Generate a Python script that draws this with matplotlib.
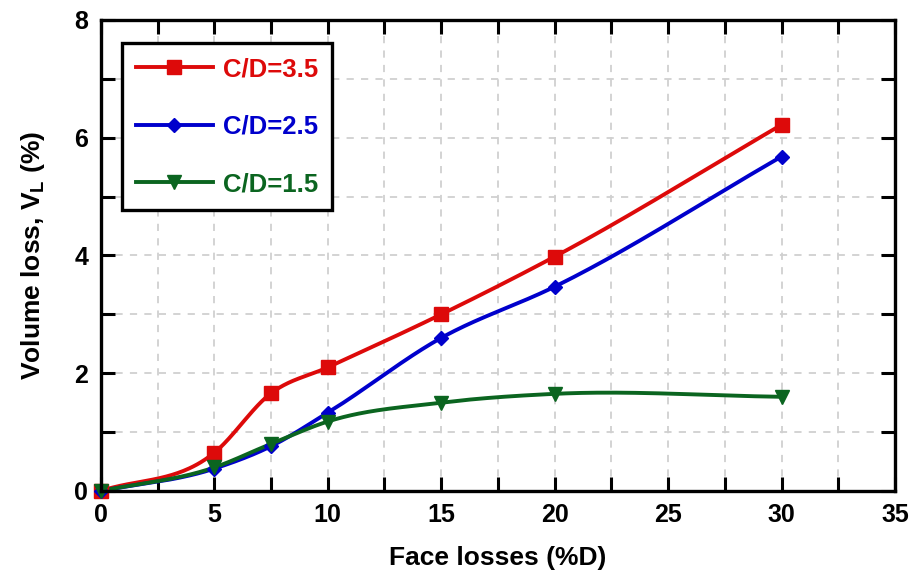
import numpy as np
import matplotlib
matplotlib.use("Agg")
import matplotlib.pyplot as plt
from matplotlib.ticker import MultipleLocator

plt.rcParams['font.family'] = ['Liberation Sans', 'DejaVu Sans']
plt.rcParams['font.weight'] = 'bold'
plt.rcParams['mathtext.fontset'] = 'custom'
plt.rcParams['mathtext.bf'] = 'Liberation Sans:bold'
plt.rcParams['mathtext.rm'] = 'Liberation Sans:bold'

face_loss = [0, 5, 7.5, 10, 15, 20, 30]
vl_35 = [0, 0.65, 1.66, 2.10, 3.00, 3.98, 6.22]
vl_25 = [0, 0.38, 0.76, 1.33, 2.60, 3.47, 5.68]
vl_15 = [0, 0.40, 0.80, 1.18, 1.50, 1.65, 1.60]

labels = ['C/D=3.5', 'C/D=2.5', 'C/D=1.5']
colors = ['#dd0a0a', '#0000cc', '#0b6520']
markers = ['s', 'D', 'v']
msizes = [9.5, 7.5, 10.5]


def smooth_curve(x, y, n=60):
    """Hermite smoothing through the data points (parabolic slope estimates)."""
    x = np.asarray(x, float); y = np.asarray(y, float)
    m = len(x)
    h = np.diff(x)
    d = np.diff(y) / h
    s = np.zeros(m)
    for i in range(1, m - 1):
        s[i] = (h[i] * d[i - 1] + h[i - 1] * d[i]) / (h[i - 1] + h[i])
    s[0] = d[0]
    s[-1] = d[-1]
    xs_all, ys_all = [], []
    t = np.linspace(0, 1, n)
    h00 = 2 * t**3 - 3 * t**2 + 1
    h10 = t**3 - 2 * t**2 + t
    h01 = -2 * t**3 + 3 * t**2
    h11 = t**3 - t**2
    for i in range(m - 1):
        xs = x[i] + t * h[i]
        ys = h00 * y[i] + h10 * h[i] * s[i] + h01 * y[i + 1] + h11 * h[i] * s[i + 1]
        if i > 0:
            xs, ys = xs[1:], ys[1:]
        xs_all.append(xs); ys_all.append(ys)
    return np.concatenate(xs_all), np.concatenate(ys_all)


fig = plt.figure(figsize=(9.17, 5.76), dpi=100)
ax = fig.add_axes([0.110, 0.1476, 0.866, 0.8177])

for ys, lab, col, mk, ms in zip([vl_35, vl_25, vl_15], labels, colors, markers, msizes):
    sx, sy = smooth_curve(face_loss, ys)
    ax.plot(sx, sy, color=col, lw=2.8, zorder=3, solid_capstyle='round')
    ax.plot(face_loss, ys, linestyle='none', marker=mk, color=col, ms=ms,
            mec=col, zorder=4, clip_on=False)
    ax.plot([], [], color=col, lw=2.8, marker=mk, ms=ms, label=lab)

ax.set_xlim(0, 35)
ax.set_ylim(0, 8)
ax.xaxis.set_major_locator(MultipleLocator(5))
ax.xaxis.set_minor_locator(MultipleLocator(2.5))
ax.yaxis.set_major_locator(MultipleLocator(2))
ax.yaxis.set_minor_locator(MultipleLocator(1))
ax.tick_params(which='both', direction='in', top=True, right=True,
               length=10, width=2.2, labelsize=18, pad=9)
ax.grid(True, which='both', color='#d0d0d0', linestyle=(0, (4, 4)), lw=1.3, zorder=0)
for s in ax.spines.values():
    s.set_linewidth(2.4)
    s.set_zorder(5)

ax.set_xlabel('Face losses (%D)', fontsize=19, fontweight='bold', labelpad=13)
ax.set_ylabel(r'Volume loss, V$_\mathbf{L}$ (%)', fontsize=19, fontweight='bold', labelpad=20)

leg = ax.legend(loc='upper left', bbox_to_anchor=(0.026, 0.951), fontsize=18.5,
                frameon=True, fancybox=False, edgecolor='black', framealpha=1,
                labelspacing=1.3, handlelength=3.0, handletextpad=0.4,
                borderpad=0.55, borderaxespad=0)
leg.get_frame().set_linewidth(2.4)
for t, col in zip(leg.get_texts(), colors):
    t.set_color(col)
    t.set_fontweight('bold')

fig.savefig('out.png', dpi=100)
